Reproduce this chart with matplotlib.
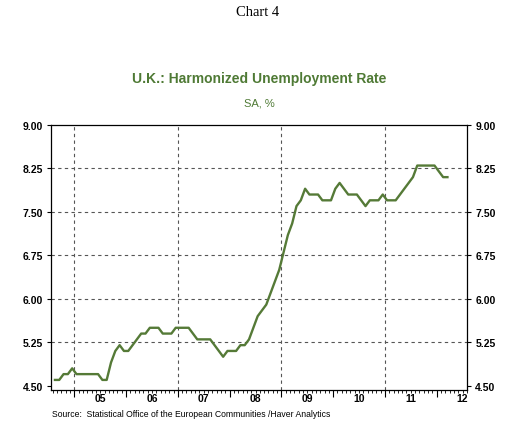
import matplotlib
matplotlib.use("Agg")
import matplotlib.pyplot as plt
import matplotlib.transforms as mtransforms
import pandas as pd

# monthly UK harmonized unemployment rate, SA, %, Aug 2004 - Mar 2012
start_month = "2004-08"
rate = [4.6, 4.6, 4.7, 4.7, 4.8,
        4.7, 4.7, 4.7, 4.7, 4.7, 4.7, 4.6, 4.6, 4.9, 5.1, 5.2, 5.1,
        5.1, 5.2, 5.3, 5.4, 5.4, 5.5, 5.5, 5.5, 5.4, 5.4, 5.4, 5.5,
        5.5, 5.5, 5.5, 5.4, 5.3, 5.3, 5.3, 5.3, 5.2, 5.1, 5.0, 5.1,
        5.1, 5.1, 5.2, 5.2, 5.3, 5.5, 5.7, 5.8, 5.9, 6.1, 6.3, 6.5,
        6.8, 7.1, 7.3, 7.6, 7.7, 7.9, 7.8, 7.8, 7.8, 7.7, 7.7, 7.7,
        7.9, 8.0, 7.9, 7.8, 7.8, 7.8, 7.7, 7.6, 7.7, 7.7, 7.7, 7.8,
        7.7, 7.7, 7.7, 7.8, 7.9, 8.0, 8.1, 8.3, 8.3, 8.3, 8.3, 8.3,
        8.2, 8.1, 8.1]

years = [2005, 2006, 2007, 2008, 2009, 2010, 2011, 2012]
year_labels = ["05", "06", "07", "08", "09", "10", "11", "12"]
grid_years = [2005, 2007, 2009, 2011]
yticks = [4.50, 5.25, 6.00, 6.75, 7.50, 8.25, 9.00]

green = "#557a37"
title_green = "#4f7a35"

# decimal year, plotted mid-month
dates = pd.date_range(start_month, periods=len(rate), freq="MS")
x = dates.year + (dates.month - 1) / 12 + 0.5 / 12

fig = plt.figure(figsize=(5.15, 4.35), dpi=100)
ax = fig.add_axes([51 / 515, 1 - 391 / 435, 416 / 515, 265 / 435])

ax.plot(x, rate, color=green, lw=1.7, zorder=3)

ax.set_xlim(2004.549, 2012.586)
ax.set_ylim(4.426, 9.0)

# grid
for v in yticks[1:-1]:
    ax.axhline(v, color="#555555", lw=0.8, ls=(0, (3, 3)), zorder=1)
for g in grid_years:
    ax.axvline(g, color="#555555", lw=0.8, ls=(0, (3, 3)), zorder=1)

for s in ax.spines.values():
    s.set_linewidth(0.9)

ax.set_yticks(yticks)
ax.set_yticklabels(["%.2f" % v for v in yticks])
ax.tick_params(axis="y", which="both", left=True, right=True, labelleft=True,
               labelright=True, direction="out", length=3, width=0.8, pad=3,
               labelsize=7.5)
for lab in ax.get_yticklabels():
    lab.set_fontweight("bold")
    lab.set_family("Liberation Sans")

ax.set_xticks(years)
ax.set_xticklabels([])
ax.set_xticks([d.year + (d.month - 1) / 12
               for d in pd.date_range("2004-08", "2012-08", freq="MS")],
              minor=True)
ax.tick_params(axis="x", which="major", direction="out", length=5, width=0.8)
ax.tick_params(axis="x", which="minor", direction="out", length=2.5, width=0.6)

trans = mtransforms.blended_transform_factory(ax.transData, ax.transAxes)
for yr, lab in zip(years, year_labels):
    ax.text(yr + 0.5, -0.013, lab, transform=trans, ha="center", va="top",
            fontsize=7.5, fontweight="bold", family="Liberation Sans")

fig.text(258 / 515, 1 - 13 / 435, "Chart 4", ha="center", va="center",
         fontsize=10.5, family="Liberation Serif")
fig.text(259 / 515, 1 - 79 / 435, "U.K.: Harmonized Unemployment Rate",
         ha="center", va="center", fontsize=10, fontweight="bold",
         color=title_green, family="Liberation Sans")
fig.text(259 / 515, 1 - 104 / 435, "SA, %", ha="center", va="center",
         fontsize=8, color=title_green, family="Liberation Sans")
fig.text(52 / 515, 1 - 415 / 435,
         "Source:  Statistical Office of the European Communities /Haver Analytics",
         ha="left", va="center", fontsize=6.2, family="Liberation Sans")

fig.savefig("out.png", dpi=100)
